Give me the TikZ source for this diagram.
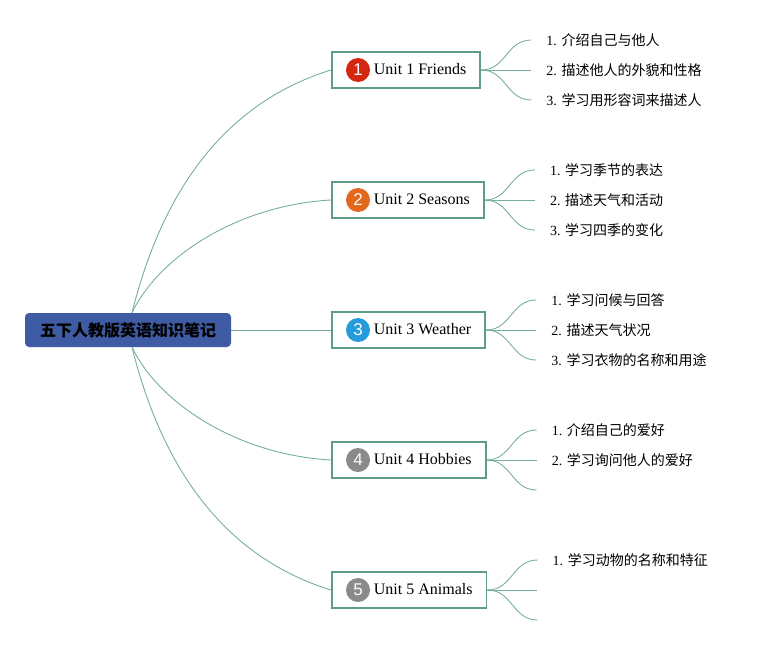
\documentclass[tikz,border=0pt]{standalone}
\usepackage{fontspec}
\setmainfont{Liberation Serif}
\newfontfamily\cjk{Noto Sans CJK SC}
\newfontfamily\badgefont{Liberation Sans}
\usetikzlibrary{positioning, calc}
\definecolor{rootblue}{HTML}{3F5BA4}
\definecolor{boxteal}{HTML}{5E9B88}
\definecolor{linkteal}{HTML}{78AE9E}
\definecolor{badgered}{HTML}{D5260F}
\definecolor{badgeorange}{HTML}{E2681B}
\definecolor{badgeblue}{HTML}{259BDB}
\definecolor{badgegray}{HTML}{8A8A8A}

\tikzset{
  rootbox/.style={fill=rootblue, rounded corners=4pt, minimum width=206pt,
    minimum height=34pt, font=\cjk\bfseries\fontsize{16}{19}\selectfont},
  unitbox/.style={draw=boxteal, line width=1.8pt, fill=white, anchor=west,
    minimum height=36pt, inner xsep=0pt, font=\fontsize{16}{19}\selectfont},
  badge/.style={circle, fill=#1, minimum size=24pt, inner sep=0pt, text=white,
    font=\badgefont\fontsize{17}{17}\selectfont},
  leaf/.style={anchor=west, inner sep=0pt, font=\fontsize{14}{17}\selectfont},
  link/.style={draw=linkteal, line width=0.9pt},
}
\newcommand{\unittext}[1]{\hspace*{42pt}\raisebox{2.5pt}{#1}\hspace*{14pt}}

\begin{document}
\begin{tikzpicture}[x=1pt, y=-1pt]
  \useasboundingbox (0,0) rectangle (765,645);

  % centre
  \node[rootbox] (root) at (128,330) {五下人教版英语知识笔记};
  \coordinate (rtop) at ($(root.north)+(4,0)$);
  \coordinate (rbot) at ($(root.south)+(4,0)$);

  % units
  \node[unitbox] (u1) at (331,70) {\unittext{Unit 1 Friends}};
  \node[unitbox] (u2) at (331,200) {\unittext{Unit 2 Seasons}};
  \node[unitbox] (u3) at (331,330) {\unittext{Unit 3 Weather}};
  \node[unitbox] (u4) at (331,460) {\unittext{Unit 4 Hobbies}};
  \node[unitbox] (u5) at (331,590) {\unittext{Unit 5 Animals}};

  \node[badge=badgered] (b1) at (358,70) {1};
  \node[badge=badgeorange] (b2) at (358,200) {2};
  \node[badge=badgeblue] (b3) at (358,330) {3};
  \node[badge=badgegray] (b4) at (358,460) {4};
  \node[badge=badgegray] (b5) at (358,590) {5};

  % root links
  \path[link] (rtop) .. controls +(38,-153) and +(-81,25) .. (u1.west);
  \path[link] (rtop) .. controls +(28,-58) and +(-91,5) .. (u2.west);
  \path[link] (root.east) -- (u3.west);
  \path[link] (rbot) .. controls +(28,58) and +(-91,-5) .. (u4.west);
  \path[link] (rbot) .. controls +(38,153) and +(-81,-25) .. (u5.west);

  % leaf ends
  \coordinate (u1a) at ($(u1.east)+(50,-30)$);
  \coordinate (u1b) at ($(u1.east)+(50,0)$);
  \coordinate (u1c) at ($(u1.east)+(50,30)$);
  \coordinate (u2a) at ($(u2.east)+(50,-30)$);
  \coordinate (u2b) at ($(u2.east)+(50,0)$);
  \coordinate (u2c) at ($(u2.east)+(50,30)$);
  \coordinate (u3a) at ($(u3.east)+(50,-30)$);
  \coordinate (u3b) at ($(u3.east)+(50,0)$);
  \coordinate (u3c) at ($(u3.east)+(50,30)$);
  \coordinate (u4a) at ($(u4.east)+(50,-30)$);
  \coordinate (u4b) at ($(u4.east)+(50,0)$);
  \coordinate (u4c) at ($(u4.east)+(50,30)$);
  \coordinate (u5a) at ($(u5.east)+(50,-30)$);
  \coordinate (u5b) at ($(u5.east)+(50,0)$);
  \coordinate (u5c) at ($(u5.east)+(50,30)$);

  \foreach \u in {u1,u2,u3,u4,u5}{
    \path[link] (\u.east) .. controls +(25,0) and +(-25,0) .. (\u a);
    \path[link] (\u.east) -- (\u b);
    \path[link] (\u.east) .. controls +(25,0) and +(-25,0) .. (\u c);
  }

  % leaf texts
  \node[leaf] (t1a) at ($(u1a)+(15,0)$) {1. {\cjk 介绍自己与他人}};
  \node[leaf] (t1b) at ($(u1b)+(15,0)$) {2. {\cjk 描述他人的外貌和性格}};
  \node[leaf] (t1c) at ($(u1c)+(15,0)$) {3. {\cjk 学习用形容词来描述人}};
  \node[leaf] (t2a) at ($(u2a)+(15,0)$) {1. {\cjk 学习季节的表达}};
  \node[leaf] (t2b) at ($(u2b)+(15,0)$) {2. {\cjk 描述天气和活动}};
  \node[leaf] (t2c) at ($(u2c)+(15,0)$) {3. {\cjk 学习四季的变化}};
  \node[leaf] (t3a) at ($(u3a)+(15,0)$) {1. {\cjk 学习问候与回答}};
  \node[leaf] (t3b) at ($(u3b)+(15,0)$) {2. {\cjk 描述天气状况}};
  \node[leaf] (t3c) at ($(u3c)+(15,0)$) {3. {\cjk 学习衣物的名称和用途}};
  \node[leaf] (t4a) at ($(u4a)+(15,0)$) {1. {\cjk 介绍自己的爱好}};
  \node[leaf] (t4b) at ($(u4b)+(15,0)$) {2. {\cjk 学习询问他人的爱好}};
  \node[leaf] (t5a) at ($(u5a)+(15,0)$) {1. {\cjk 学习动物的名称和特征}};
\end{tikzpicture}
\end{document}
